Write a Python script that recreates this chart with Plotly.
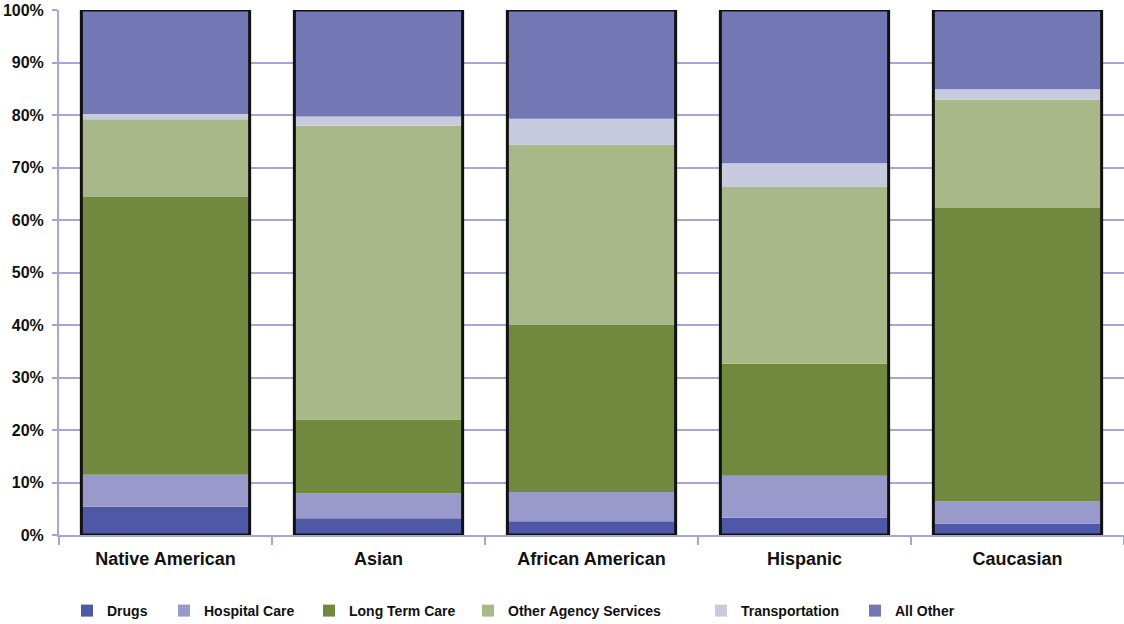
import plotly.graph_objects as go

categories = ["Native American", "Asian", "African American", "Hispanic", "Caucasian"]

# share of each category (percent)
drugs = [5.4, 3.2, 2.6, 3.3, 2.2]
hospital_care = [6.1, 4.7, 5.6, 8.0, 4.2]
long_term_care = [52.9, 14.1, 31.8, 21.3, 55.9]
other_agency = [14.8, 56.0, 34.4, 33.8, 20.6]
transportation = [1.0, 1.7, 4.9, 4.4, 2.0]
all_other = [19.8, 20.3, 20.7, 29.2, 15.1]

series_names = ["Drugs", "Hospital Care", "Long Term Care", "Other Agency Services",
                "Transportation", "All Other"]
series_values = [drugs, hospital_care, long_term_care, other_agency, transportation, all_other]
series_colors = ["#4F58A6", "#9999CC", "#71893F", "#A9B889", "#C8CAE0", "#7378B5"]

y_ticks = [0, 10, 20, 30, 40, 50, 60, 70, 80, 90, 100]
y_tick_labels = [f"{v}%" for v in y_ticks]

W, H = 1124, 624
# legend text left positions (px from left) and row centre (px from top)
legend_text_left = [107, 204, 349, 508, 741, 895]
legend_row_y = 611

TICK_FONT = "Liberation Sans Narrow, Arial Narrow, Liberation Sans, Arial, sans-serif"
CAT_FONT = "Liberation Sans, Arial, sans-serif"

fig = go.Figure()
base = [0.0] * len(categories)
for i, (name, vals, col) in enumerate(zip(series_names, series_values, series_colors)):
    lg = "legend" if i == 0 else f"legend{i+1}"
    fig.add_trace(go.Bar(
        x=categories, y=vals, base=list(base), name=name,
        marker=dict(color=col, line=dict(width=0)),
        width=0.79, legend=lg,
    ))
    base = [b + v for b, v in zip(base, vals)]

# outline of each whole stacked bar
fig.add_trace(go.Bar(
    x=categories, y=base, base=[0] * len(categories),
    marker=dict(color="rgba(0,0,0,0)", line=dict(color="#111111", width=3)),
    width=0.79, showlegend=False, hoverinfo="skip", cliponaxis=False,
))

layout_legends = {}
for i, tl in enumerate(legend_text_left):
    key = "legend" if i == 0 else f"legend{i+1}"
    layout_legends[key] = dict(
        x=(tl - 40) / W, y=(H - legend_row_y) / H, xref="container", yref="container",
        xanchor="left", yanchor="middle", orientation="h",
        font=dict(family=TICK_FONT, size=14, color="#111111", weight="bold"),
        bgcolor="rgba(0,0,0,0)", borderwidth=0, itemclick=False,
    )

fig.update_layout(
    width=W, height=H,
    margin=dict(l=59, r=0, t=10, b=89),
    barmode="overlay",
    plot_bgcolor="white", paper_bgcolor="white",
    xaxis=dict(
        type="category", range=[-0.5, 4.5],
        showgrid=False, showline=True, linecolor="#A3A6D6", linewidth=2,
        ticks="outside", tickson="boundaries", ticklen=8, tickwidth=2, tickcolor="#A3A6D6",
        tickfont=dict(family=CAT_FONT, size=18, color="#111111", weight="bold"),
        ticklabelstandoff=6,
        zeroline=False,
    ),
    yaxis=dict(
        range=[0, 100], tickvals=y_ticks, ticktext=y_tick_labels,
        showgrid=True, gridcolor="#A3A6D6", gridwidth=2,
        showline=True, linecolor="#A3A6D6", linewidth=2,
        ticks="outside", ticklen=5, tickwidth=2, tickcolor="#A3A6D6",
        tickfont=dict(family=TICK_FONT, size=16, color="#111111", weight="bold"),
        ticklabelstandoff=5,
        zeroline=False,
    ),
    **layout_legends,
)

fig.write_html("out.html")
